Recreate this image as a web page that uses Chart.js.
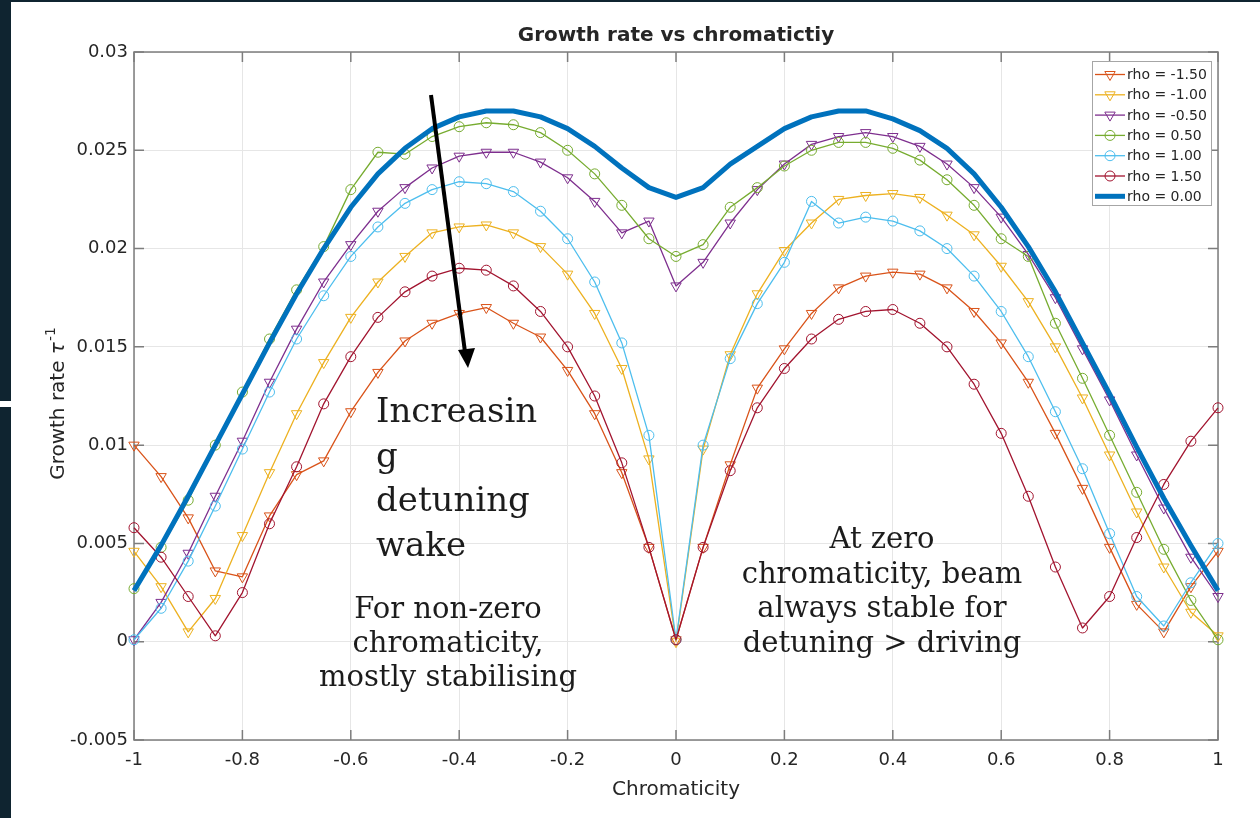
<!DOCTYPE html>
<html>
<head>
<meta charset="utf-8">
<script src="https://cdn.jsdelivr.net/npm/chart.js@4"></script>
<style>
  html, body { margin: 0; padding: 0; background: #fff; overflow: hidden; }
  canvas { display: block; }
</style>
</head>
<body>
<canvas id="c" width="1260" height="818"></canvas>
<script>
// chromaticity values (x)
const chroma = [-1, -0.95, -0.9, -0.85, -0.8, -0.75, -0.7, -0.65, -0.6, -0.55, -0.5, -0.45, -0.4, -0.35, -0.3, -0.25, -0.2, -0.15, -0.1, -0.05,
  0, 0.05, 0.1, 0.15, 0.2, 0.25, 0.3, 0.35, 0.4, 0.45, 0.5, 0.55, 0.6, 0.65, 0.7, 0.75, 0.8, 0.85, 0.9, 0.95, 1];

// growth rate per rho
const rhoM150 = [0.0100, 0.0084, 0.0063, 0.0036, 0.0033, 0.0064, 0.0085, 0.0092, 0.0117, 0.0137, 0.0153, 0.0162, 0.0167, 0.0170, 0.0162, 0.0155, 0.0138, 0.0116, 0.0086, 0.0048,
  0.0001, 0.0048, 0.0090, 0.0129, 0.0149, 0.0167, 0.0180, 0.0186, 0.0188, 0.0187, 0.0180, 0.0168, 0.0152, 0.0132, 0.0106, 0.0078, 0.0048, 0.0019, 0.0005, 0.0028, 0.0046];
const rhoM100 = [0.0046, 0.0028, 0.0005, 0.0022, 0.0054, 0.0086, 0.0116, 0.0142, 0.0165, 0.0183, 0.0196, 0.0208, 0.0211, 0.0212, 0.0208, 0.0201, 0.0187, 0.0167, 0.0139, 0.0093,
  0.0000, 0.0098, 0.0146, 0.0177, 0.0199, 0.0213, 0.0225, 0.0227, 0.0228, 0.0226, 0.0217, 0.0207, 0.0191, 0.0173, 0.0150, 0.0124, 0.0095, 0.0066, 0.0038, 0.0015, 0.0003];
const rhoM050 = [0.0001, 0.0020, 0.0045, 0.0074, 0.0102, 0.0132, 0.0159, 0.0183, 0.0202, 0.0219, 0.0231, 0.0241, 0.0247, 0.0249, 0.0249, 0.0244, 0.0236, 0.0224, 0.0208, 0.0214,
  0.0181, 0.0193, 0.0213, 0.0230, 0.0243, 0.0253, 0.0257, 0.0259, 0.0257, 0.0252, 0.0243, 0.0231, 0.0216, 0.0197, 0.0175, 0.0149, 0.0123, 0.0095, 0.0068, 0.0043, 0.0023];
const rhoP050 = [0.0027, 0.0048, 0.0072, 0.0100, 0.0127, 0.0154, 0.0179, 0.0201, 0.0230, 0.0249, 0.0248, 0.0257, 0.0262, 0.0264, 0.0263, 0.0259, 0.0250, 0.0238, 0.0222, 0.0205,
  0.0196, 0.0202, 0.0221, 0.0231, 0.0242, 0.0250, 0.0254, 0.0254, 0.0251, 0.0245, 0.0235, 0.0222, 0.0205, 0.0196, 0.0162, 0.0134, 0.0105, 0.0076, 0.0047, 0.0021, 0.0001];
const rhoP100 = [0.0001, 0.0017, 0.0041, 0.0069, 0.0098, 0.0127, 0.0154, 0.0176, 0.0196, 0.0211, 0.0223, 0.0230, 0.0234, 0.0233, 0.0229, 0.0219, 0.0205, 0.0183, 0.0152, 0.0105,
  0.0001, 0.0100, 0.0144, 0.0172, 0.0193, 0.0224, 0.0213, 0.0216, 0.0214, 0.0209, 0.0200, 0.0186, 0.0168, 0.0145, 0.0117, 0.0088, 0.0055, 0.0023, 0.0008, 0.0030, 0.0050];
const rhoP150 = [0.0058, 0.0043, 0.0023, 0.0003, 0.0025, 0.0060, 0.0089, 0.0121, 0.0145, 0.0165, 0.0178, 0.0186, 0.0190, 0.0189, 0.0181, 0.0168, 0.0150, 0.0125, 0.0091, 0.0048,
  0.0001, 0.0048, 0.0087, 0.0119, 0.0139, 0.0154, 0.0164, 0.0168, 0.0169, 0.0162, 0.0150, 0.0131, 0.0106, 0.0074, 0.0038, 0.0007, 0.0023, 0.0053, 0.0080, 0.0102, 0.0119];
const rhoZero = [0.0026, 0.0049, 0.0074, 0.0100, 0.0126, 0.0152, 0.0177, 0.0200, 0.0221, 0.0238, 0.0251, 0.0261, 0.0267, 0.0270, 0.0270, 0.0267, 0.0261, 0.0252, 0.0241, 0.0231,
  0.0226, 0.0231, 0.0243, 0.0252, 0.0261, 0.0267, 0.0270, 0.0270, 0.0266, 0.0260, 0.0251, 0.0238, 0.0221, 0.0201, 0.0178, 0.0152, 0.0126, 0.0099, 0.0073, 0.0049, 0.0026];

const labels = ['rho = -1.50', 'rho = -1.00', 'rho = -0.50', 'rho = 0.50', 'rho = 1.00', 'rho = 1.50', 'rho = 0.00'];
const colors = ['#D95319', '#EDB120', '#7E2F8E', '#77AC30', '#4DBEEE', '#A2142F', '#0072BD'];

const TXT = '#262626';
const AX = '#7d7d7d';
const SANS = "'DejaVu Sans', sans-serif";
const SERIF = "'DejaVu Serif', serif";

function series(i, vals, style, order) {
  const thick = style === null;
  return {
    label: labels[i],
    data: chroma.map((x, k) => ({ x: x, y: vals[k] })),
    borderColor: colors[i],
    backgroundColor: 'rgba(0,0,0,0)',
    borderWidth: thick ? 5 : 1.3,
    borderJoinStyle: 'round',
    pointStyle: style || 'circle',
    pointRotation: style === 'triangle' ? 180 : 0,
    pointRadius: thick ? 0 : (style === 'triangle' ? 6 : 5),
    pointBorderWidth: 1,
    pointBorderColor: colors[i],
    pointBackgroundColor: 'rgba(0,0,0,0)',
    tension: 0,
    clip: false,
    order: order
  };
}

const datasets = [
  series(0, rhoM150, 'triangle', 6),
  series(1, rhoM100, 'triangle', 5),
  series(2, rhoM050, 'triangle', 4),
  series(3, rhoP050, 'circle', 3),
  series(4, rhoP100, 'circle', 2),
  series(5, rhoP150, 'circle', 1),
  series(6, rhoZero, null, 0)
];

// page frame, axes box, legend and text notes
const decor = {
  id: 'decor',
  beforeDraw(chart) {
    const ctx = chart.ctx;
    ctx.save();
    ctx.fillStyle = '#fff';
    ctx.fillRect(0, 0, 1260, 818);
    ctx.fillStyle = '#0f2430';
    ctx.fillRect(0, 0, 11, 818);
    ctx.fillRect(0, 0, 1260, 2);
    ctx.fillStyle = '#fff';
    ctx.fillRect(0, 401, 11, 6);
    ctx.restore();
  },
  beforeDatasetsDraw(chart) {
    const ctx = chart.ctx, a = chart.chartArea;
    const xs = chart.scales.x, ys = chart.scales.y;
    ctx.save();
    ctx.strokeStyle = AX;
    ctx.lineWidth = 1.5;
    ctx.beginPath();
    xs.ticks.forEach(t => {
      const p = xs.getPixelForValue(t.value);
      ctx.moveTo(p, a.bottom); ctx.lineTo(p, a.bottom - 10);
      ctx.moveTo(p, a.top); ctx.lineTo(p, a.top + 10);
    });
    ys.ticks.forEach(t => {
      const p = ys.getPixelForValue(t.value);
      ctx.moveTo(a.left, p); ctx.lineTo(a.left + 10, p);
      ctx.moveTo(a.right, p); ctx.lineTo(a.right - 10, p);
    });
    ctx.stroke();
    ctx.strokeRect(a.left, a.top, a.right - a.left, a.bottom - a.top);
    ctx.restore();
  },
  afterDraw(chart) {
    const ctx = chart.ctx;
    ctx.save();
    ctx.fillStyle = TXT;
    // title
    ctx.font = "bold 20px " + SANS;
    ctx.textAlign = 'center';
    ctx.textBaseline = 'alphabetic';
    ctx.fillText('Growth rate vs chromatictiy', 676, 41);
    // x label
    ctx.font = "20px " + SANS;
    ctx.fillText('Chromaticity', 676, 795);
    // y label
    ctx.save();
    ctx.translate(64, 404);
    ctx.rotate(-Math.PI / 2);
    ctx.textAlign = 'left';
    const p1 = 'Growth rate ', p2 = '\u03C4', p3 = '-1';
    ctx.font = "20px " + SANS;
    const w1 = ctx.measureText(p1).width;
    ctx.font = "italic 20px " + SANS;
    const w2 = ctx.measureText(p2).width;
    ctx.font = "14px " + SANS;
    const w3 = ctx.measureText(p3).width;
    let x0 = -(w1 + w2 + w3) / 2;
    ctx.font = "20px " + SANS;
    ctx.fillText(p1, x0, 0);
    ctx.font = "italic 20px " + SANS;
    ctx.fillText(p2, x0 + w1, 0);
    ctx.font = "14px " + SANS;
    ctx.fillText(p3, x0 + w1 + w2 + 1, -9);
    ctx.restore();

    // legend
    ctx.fillStyle = '#fff';
    ctx.fillRect(1092, 61, 119, 144);
    ctx.strokeStyle = '#a6a6a6';
    ctx.lineWidth = 1;
    ctx.strokeRect(1092.5, 61.5, 119, 144);
    ctx.textAlign = 'left';
    ctx.textBaseline = 'middle';
    ctx.font = "14px " + SANS;
    chart.data.datasets.forEach((ds, i) => {
      const y = 74.5 + i * 20.3;
      ctx.strokeStyle = ds.borderColor;
      ctx.lineWidth = ds.borderWidth;
      ctx.beginPath();
      ctx.moveTo(1095, y); ctx.lineTo(1125, y);
      ctx.stroke();
      if (ds.pointRadius > 0) {
        ctx.lineWidth = 1;
        ctx.beginPath();
        if (ds.pointStyle === 'triangle') {
          const r = ds.pointRadius;
          ctx.moveTo(1110, y + r);
          ctx.lineTo(1110 - r * 0.866, y - r / 2);
          ctx.lineTo(1110 + r * 0.866, y - r / 2);
          ctx.closePath();
        } else {
          ctx.arc(1110, y, ds.pointRadius, 0, Math.PI * 2);
        }
        ctx.stroke();
      }
      ctx.fillStyle = TXT;
      ctx.fillText(ds.label, 1127, y + 1);
    });

    // arrow
    ctx.strokeStyle = '#000';
    ctx.fillStyle = '#000';
    ctx.lineWidth = 4;
    ctx.beginPath();
    ctx.moveTo(431, 95);
    ctx.lineTo(465, 352);
    ctx.stroke();
    ctx.beginPath();
    ctx.moveTo(468, 368);
    ctx.lineTo(458, 350);
    ctx.lineTo(475, 348);
    ctx.closePath();
    ctx.fill();

    // notes
    ctx.fillStyle = '#1c1c1c';
    ctx.textBaseline = 'alphabetic';
    ctx.textAlign = 'left';
    ctx.font = "34px " + SERIF;
    ['Increasin', 'g', 'detuning', 'wake'].forEach((s, i) => ctx.fillText(s, 376, 422 + i * 44.5));
    ctx.textAlign = 'center';
    ctx.font = "29px " + SERIF;
    ['For non-zero', 'chromaticity,', 'mostly stabilising'].forEach((s, i) => ctx.fillText(s, 448, 618 + i * 34));
    ['At zero', 'chromaticity, beam', 'always stable for', 'detuning > driving'].forEach((s, i) => ctx.fillText(s, 882, 548 + i * 34.5));
    ctx.restore();
  }
};

new Chart(document.getElementById('c'), {
  type: 'line',
  data: { datasets: datasets },
  options: {
    responsive: false,
    animation: false,
    devicePixelRatio: 1,
    layout: { padding: { left: 0, right: 42, top: 52, bottom: 0 } },
    plugins: { legend: { display: false }, title: { display: false }, tooltip: { enabled: false } },
    scales: {
      x: {
        type: 'linear',
        min: -1, max: 1,
        afterFit(s) { s.height = 78; },
        grid: { color: '#e6e6e6', lineWidth: 1, drawTicks: false },
        border: { display: false },
        ticks: {
          stepSize: 0.2, autoSkip: false, maxRotation: 0, padding: 10,
          color: TXT, font: { family: SANS, size: 18 },
          callback: v => String(+(+v).toFixed(1) || 0)
        }
      },
      y: {
        type: 'linear',
        min: -0.005, max: 0.03,
        afterFit(s) { s.width = 134; },
        grid: { color: '#e6e6e6', lineWidth: 1, drawTicks: false },
        border: { display: false },
        ticks: {
          stepSize: 0.005, autoSkip: false, padding: 6,
          color: TXT, font: { family: SANS, size: 18 },
          callback: v => String(+(+v).toFixed(3) || 0)
        }
      }
    }
  },
  plugins: [decor]
});
</script>
</body>
</html>
